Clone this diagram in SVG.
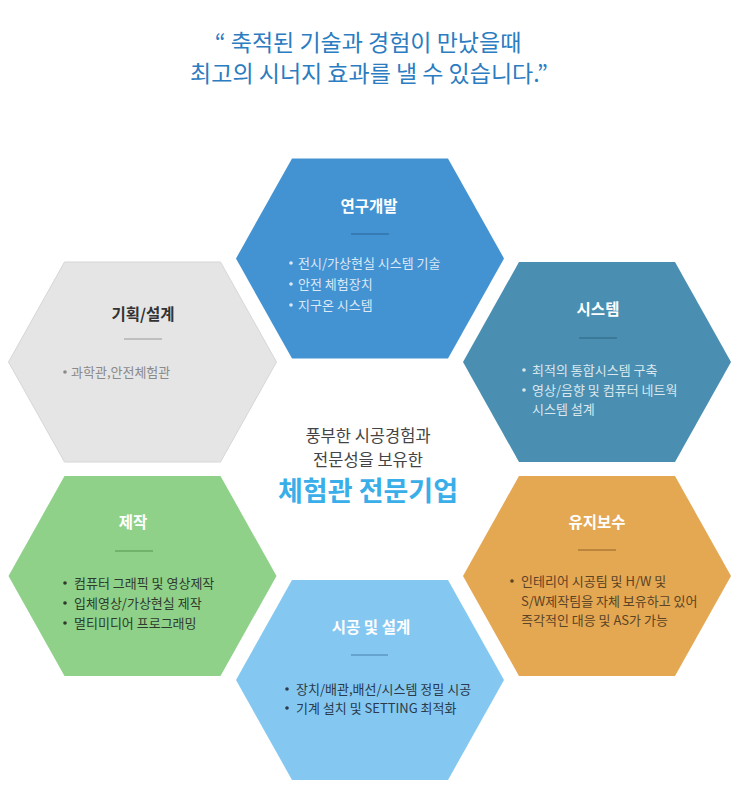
<svg xmlns="http://www.w3.org/2000/svg" xmlns:xlink="http://www.w3.org/1999/xlink" width="740" height="800" viewBox="0 0 740 800">
<style>
text{font-family:"Noto Sans CJK KR","Noto Sans",sans-serif;}
.head{font-size:23px;fill:#2b7cc0;text-anchor:middle;}
.ttl{font-size:15.5px;font-weight:bold;fill:#ffffff;text-anchor:middle;}
.item{font-size:13px;}
.c1{font-size:16.5px;fill:#444444;text-anchor:middle;}
.c2{font-size:27px;font-weight:bold;fill:#3aaee9;text-anchor:middle;}
.div{stroke-width:1.2;}
</style>
<defs>
<polygon id="hex" points="-78,-100 78,-100 134,0 78,100 -78,100 -134,0"/>
</defs>
<rect width="740" height="800" fill="#ffffff"/>
<g id="heading">
<text class="head" x="368" y="51">“ 축적된 기술과 경험이 만났을때</text>
<text class="head" x="369" y="82">최고의 시너지 효과를 낼 수 있습니다.”</text>
</g>
<g id="n-research">
<use xlink:href="#hex" transform="translate(370,258.5)" fill="#4393d3"/>
<text class="ttl" x="369" y="212">연구개발</text>
<line class="div" x1="351" y1="234" x2="389" y2="234" stroke="#2d6597"/>
<g fill="#dbe8f6" class="item">
<circle cx="291" cy="263" r="1.8"/><circle cx="291" cy="284" r="1.8"/><circle cx="291" cy="305" r="1.8"/>
<text x="298" y="267.5">전시/가상현실 시스템 기술</text>
<text x="298" y="288.5">안전 체험장치</text>
<text x="298" y="309.5">지구온 시스템</text>
</g>
</g>
<g id="n-plan">
<use xlink:href="#hex" transform="translate(142.5,362)" fill="#e5e5e5" stroke="#d6d6d6" stroke-width="1"/>
<text class="ttl" x="143" y="320" style="fill:#333333">기획/설계</text>
<line class="div" x1="124" y1="339" x2="162" y2="339" stroke="#999999"/>
<g fill="#8a8a8a" class="item">
<circle cx="65" cy="372" r="1.8"/>
<text x="71" y="376.5">과학관,안전체험관</text>
</g>
</g>
<g id="n-system">
<use xlink:href="#hex" transform="translate(597,362)" fill="#4a8fb1"/>
<text class="ttl" x="598" y="315">시스템</text>
<line class="div" x1="579" y1="338" x2="617" y2="338" stroke="#2c6580"/>
<g fill="#d9e7ef" class="item">
<circle cx="524" cy="370" r="1.8"/><circle cx="524" cy="390" r="1.8"/>
<text x="532" y="374.5">최적의 통합시스템 구축</text>
<text x="532" y="394.5">영상/음향 및 컴퓨터 네트웍</text>
<text x="532" y="413.5">시스템 설계</text>
</g>
</g>
<g id="n-make">
<use xlink:href="#hex" transform="translate(142.5,576)" fill="#8fd189"/>
<text class="ttl" x="133" y="528">제작</text>
<line class="div" x1="115" y1="551" x2="153" y2="551" stroke="#55954f"/>
<g fill="#2e3a2c" class="item">
<circle cx="65" cy="583" r="1.8"/><circle cx="65" cy="603" r="1.8"/><circle cx="65" cy="623" r="1.8"/>
<text x="74" y="587.5">컴퓨터 그래픽 및 영상제작</text>
<text x="74" y="607.5">입체영상/가상현실 제작</text>
<text x="74" y="627.5">멀티미디어 프로그래밍</text>
</g>
</g>
<g id="n-maint">
<use xlink:href="#hex" transform="translate(597,576)" fill="#e4a752"/>
<text class="ttl" x="597" y="528">유지보수</text>
<line class="div" x1="578" y1="550" x2="616" y2="550" stroke="#93652a"/>
<g fill="#5a4426" class="item">
<circle cx="512" cy="581" r="1.8"/>
<text x="521" y="585.5">인테리어 시공팀 및 H/W 및</text>
<text x="521" y="605.5">S/W제작팀을 자체 보유하고 있어</text>
<text x="521" y="624.5">즉각적인 대응 및 AS가 가능</text>
</g>
</g>
<g id="n-build">
<use xlink:href="#hex" transform="translate(370,680)" fill="#84c8f2"/>
<text class="ttl" x="371" y="633">시공 및 설계</text>
<line class="div" x1="351" y1="655" x2="388" y2="655" stroke="#4a7fab"/>
<g fill="#2a3a4a" class="item">
<circle cx="287" cy="689" r="1.8"/><circle cx="287" cy="708" r="1.8"/>
<text x="296" y="693.5">장치/배관,배선/시스템 정밀 시공</text>
<text x="296" y="712.5">기계 설치 및 SETTING 최적화</text>
</g>
</g>
<g id="center">
<text class="c1" x="368" y="442">풍부한 시공경험과</text>
<text class="c1" x="368" y="465.5">전문성을 보유한</text>
<text class="c2" x="368" y="500.5">체험관 전문기업</text>
</g>
<g id="connectors"/>
</svg>
